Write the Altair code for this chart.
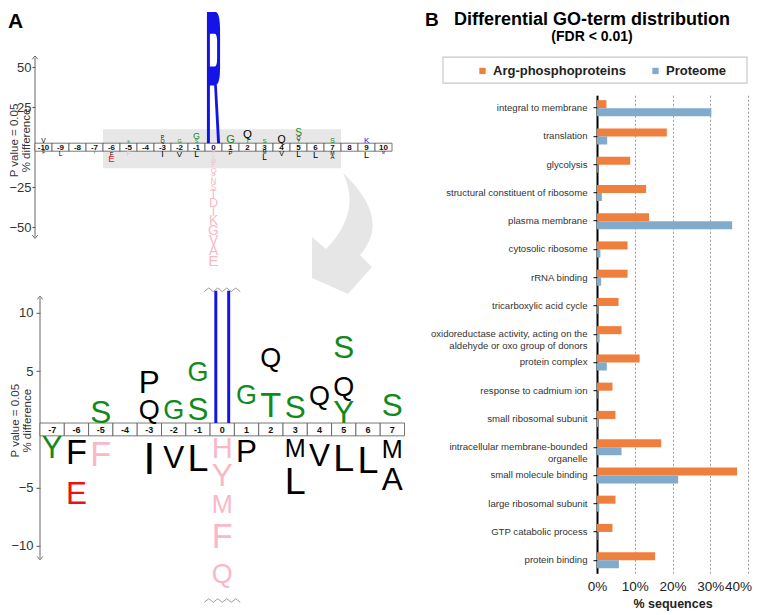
import altair as alt
import pandas as pd

# ================= Panel B data =================
go_terms = [
    "integral to membrane",
    "translation",
    "glycolysis",
    "structural constituent of ribosome",
    "plasma membrane",
    "cytosolic ribosome",
    "rRNA binding",
    "tricarboxylic acid cycle",
    "oxidoreductase activity, acting on the|aldehyde or oxo group of donors",
    "protein complex",
    "response to cadmium ion",
    "small ribosomal subunit",
    "intracellular membrane-bounded|organelle",
    "small molecule binding",
    "large ribosomal subunit",
    "GTP catabolic process",
    "protein binding",
]
arg_phospho_pct = [2.5, 18.5, 8.8, 13.0, 13.8, 8.1, 8.1, 5.7, 6.5, 11.3, 4.1, 4.9, 17.0, 37.1, 4.9, 4.1, 15.4]
proteome_pct = [30.3, 2.7, 0.2, 1.3, 35.8, 0.9, 1.1, 0.2, 0.7, 2.6, 0.15, 0.3, 6.5, 21.5, 0.6, 0.15, 5.8]
series_names = ["Arg-phosphoproteins", "Proteome"]

# ================= Panel A data (iceLogo) =================
# stacking order: from the position box outward
logo_pos = [-10, -5, -3, -3, -2, -1, -1, 0, 1, 2, 2, 3, 4, 5, 5, 5, 7, 9,
            -10, -9, -7, -6, -6, -5, -3, -2, -1,
            0, 0, 0, 0, 0, 0, 0, 0, 0, 0, 0, 0, 0, 0, 0, 0,
            1, 3, 3, 4, 5, 6, 7, 7, 9, 10]
logo_side = [1] * 18 + [-1] * 35
logo_aa = ["V", "S", "Q", "P", "G", "S", "G", "R", "G", "T", "Q", "S", "Q", "Y", "Q", "S", "S", "K",
           "F", "L", "Y", "F", "E", "F", "I", "V", "L",
           "H", "Y", "M", "F", "Q", "P", "N", "S", "T", "D", "I", "K", "G", "V", "A", "E",
           "P", "M", "L", "V", "L", "L", "M", "A", "L", "M"]
logo_height = [3.0, 1.97, 2.4, 2.3, 2.4, 2.4, 4.0, 82.0, 5.0, 3.1, 5.15, 2.8, 4.7, 2.0, 2.3, 4.5, 3.1, 3.5,
               2.0, 3.0, 1.9, 2.7, 4.3, 3.1, 3.9, 3.6, 3.8,
               2.0, 2.6, 2.5, 2.9, 3.6, 3.0, 3.7, 3.7, 5.0, 5.6, 5.6, 6.2, 6.2, 6.2, 6.2, 6.9,
               2.6, 2.0, 3.7, 3.2, 3.8, 4.1, 2.3, 2.7, 4.0, 1.5]
logo_class = ["black", "green", "black", "black", "green", "green", "green", "blue", "green", "green",
              "black", "green", "black", "green", "black", "green", "green", "blue",
              "black", "black", "green", "black", "red", "pink", "black", "black", "black",
              "pink", "pink", "pink", "pink", "pink", "pink", "pink", "pink", "pink", "pink", "pink",
              "pink", "pink", "pink", "pink", "pink",
              "black", "black", "black", "black", "black", "black", "black", "black", "black", "black"]
box_pos_top = list(range(-10, 11))
box_pos_bottom = list(range(-7, 8))

# ================= styles =================
ORANGE = "#EF7F3D"
BLUE_BAR = "#80ABCD"
CLS = ["green", "black", "blue", "red", "pink"]
CLS_COL = ["#128a1a", "#000000", "#1414e6", "#ee1111", "#f8b9c7"]
LOGO_FONT = "Liberation Sans"
CAP = 0.716
FS_CAP = 44
WIDTH = {"A": .667, "D": .722, "E": .667, "F": .611, "G": .778, "H": .722, "I": .278,
         "K": .667, "L": .556, "M": .833, "N": .722, "P": .667, "Q": .778, "R": .722,
         "S": .667, "T": .611, "V": .667, "Y": .667}

R_PATH = ("M -0.1 1 L -0.1 -1 L 0.03 -1 Q 0.1 -1 0.1 -0.7 L 0.1 -0.15 Q 0.1 0.08 0.05 0.1 "
          "L 0.1 1 L 0.055 1 L 0.01 0.12 L -0.055 0.12 L -0.055 1 Z "
          "M -0.055 -0.67 L -0.055 -0.17 L 0.02 -0.17 Q 0.055 -0.17 0.055 -0.3 L 0.055 -0.54 "
          "Q 0.055 -0.67 0.02 -0.67 Z")
STEMS_PATH = ("M -0.12 -1 L -0.075 -1 L -0.075 1 L -0.12 1 Z "
              "M 0.075 -1 L 0.12 -1 L 0.12 1 L 0.075 1 Z")
ARROW_PATH = ("M 0.017 -1 Q 0.833 -0.233 0.3 0.367 L 0.5 0.567 L 0.1 1.017 L -0.5 0.75 "
              "L -0.5 0.067 L -0.267 0.267 Q 0.333 -0.35 0.017 -1 Z")
ZIGZAG = "M -1 0.1 L -0.75 -0.1 L -0.5 0.1 L -0.25 -0.1 L 0 0.1 L 0.25 -0.1 L 0.5 0.1 L 0.75 -0.1 L 1 0.1"
CHEV_UP = "M -1 0.6 L 0 -0.6 L 1 0.6"
CHEV_DN = "M -1 -0.6 L 0 0.6 L 1 -0.6"

one = alt.Data(values=[{}])
cls_scale = alt.Scale(domain=CLS, range=CLS_COL)


def stack_logo(box_half, ppu, max_w):
    rows, cum = [], {}
    for p, s, a, h, c in zip(logo_pos, logo_side, logo_aa, logo_height, logo_class):
        k = (p, s)
        start = box_half + cum.get(k, 0.0)
        cum[k] = cum.get(k, 0.0) + h
        y0, y1 = s * start, s * (start + h)
        yc = (y0 + y1) / 2
        fs = min(h * ppu / CAP, max_w / WIDTH[a], FS_CAP)
        rows.append(dict(pos=p, aa=a, cls=c, lo=min(y0, y1), hi=max(y0, y1), yc=yc,
                         fs=fs, yb=yc - 0.5 * CAP * fs / ppu))
    return pd.DataFrame(rows)


def boxes_df(positions):
    return pd.DataFrame({"pos": positions,
                         "x0": [p - 0.5 for p in positions],
                         "x1": [p + 0.5 for p in positions],
                         "label": [str(p) for p in positions]})


def y_axis(values, title_x, title_y, offset=0, tick=3, pad=1):
    return alt.Axis(values=values, domain=False, ticks=True, tickSize=tick, tickColor="#555",
                    labelFontSize=13, labelColor="#333", labelPadding=pad, grid=False,
                    offset=offset,
                    title=["P value = 0.05", "% difference"], titleFontSize=11.5,
                    titleFontWeight="normal", titleColor="#333", titleAngle=270,
                    titleX=title_x, titleY=title_y, titleAlign="center",
                    titleBaseline="bottom", titleLineHeight=12)


# ================= Top logo =================
TOP_W, TOP_H = 357, 264
TOP_XD = [-10.5, 10.5]
TOP_YD = [-78.0, 87.0]
TOP_PPU = TOP_H / (TOP_YD[1] - TOP_YD[0])
TOP_BOX = 2.5


def tpx(u):
    return (u - TOP_XD[0]) / (TOP_XD[1] - TOP_XD[0]) * TOP_W


def tpy(v):
    return (TOP_YD[1] - v) * TOP_PPU


top_df = stack_logo(TOP_BOX, TOP_PPU, 14)
top_letters = top_df[top_df.aa != "R"]
top_R = top_df[top_df.aa == "R"].copy()
top_R["sz"] = ((top_R.hi - top_R.lo) * TOP_PPU) ** 2
top_boxes = boxes_df(box_pos_top)
xs_top = alt.Scale(domain=TOP_XD, nice=False, zero=False)
ys_top = alt.Scale(domain=TOP_YD, nice=False, zero=False)
top_axis = y_axis([-50, -25, 25, 50], -16, 132)

t_shade = alt.Chart(one).mark_rect(color="#e7e7e7").encode(
    x=alt.value(tpx(-6.5)), x2=alt.value(tpx(7.5)), y=alt.value(tpy(11.25)), y2=alt.value(tpy(-13.1)))
t_arrow = alt.Chart(one).mark_point(shape=ARROW_PATH, filled=True, color="#e6e6e6", opacity=1,
                                    size=14400, strokeWidth=0).encode(x=alt.value(307), y=alt.value(225))
t_axis = alt.Chart(one).mark_rule(color="#666", strokeWidth=1).encode(
    x=alt.value(0), y=alt.value(tpy(56)), y2=alt.value(tpy(-56)))
t_cap_up = alt.Chart(one).mark_point(shape=CHEV_UP, filled=False, color="#666", size=30, opacity=1,
                                     strokeWidth=1).encode(x=alt.value(0), y=alt.value(tpy(56)))
t_cap_dn = alt.Chart(one).mark_point(shape=CHEV_DN, filled=False, color="#666", size=30, opacity=1,
                                     strokeWidth=1).encode(x=alt.value(0), y=alt.value(tpy(-56)))
t_boxes = alt.Chart(top_boxes).mark_rect(fill="white", stroke="#555", strokeWidth=0.8).encode(
    x=alt.X("x0:Q", scale=xs_top, axis=None), x2="x1:Q",
    y=alt.value(tpy(TOP_BOX)), y2=alt.value(tpy(-TOP_BOX)))
t_boxlab = alt.Chart(top_boxes).mark_text(fontSize=8, fontWeight="bold", baseline="middle", color="#111").encode(
    x=alt.X("pos:Q", scale=xs_top, axis=None), y=alt.value(tpy(0) + 0.5), text="label:N")
t_letters = alt.Chart(top_letters).mark_text(baseline="alphabetic", align="center", font=LOGO_FONT).encode(
    x=alt.X("pos:Q", scale=xs_top, axis=None),
    y=alt.Y("yb:Q", scale=ys_top, axis=top_axis),
    text="aa:N",
    color=alt.Color("cls:N", scale=cls_scale, legend=None),
    size=alt.Size("fs:Q", scale=None))
t_R = alt.Chart(top_R).mark_point(shape=R_PATH, filled=True, color="#1414e6", opacity=1, strokeWidth=0).encode(
    x=alt.X("pos:Q", scale=xs_top, axis=None), y=alt.Y("yc:Q", scale=ys_top, axis=top_axis),
    size=alt.Size("sz:Q", scale=None))
t_A = alt.Chart(one).mark_text(text="A", fontSize=21, fontWeight="bold", align="left",
                               baseline="top").encode(x=alt.value(-27), y=alt.value(3))

top = alt.layer(t_shade, t_arrow, t_axis, t_cap_up, t_cap_dn, t_boxes, t_boxlab, t_letters, t_R, t_A
                ).properties(width=TOP_W, height=TOP_H)

# ================= Bottom logo =================
BOT_W, BOT_H = 369.5, 308.7
BOT_XD = [-7.706, 7.5]
BOT_YD = [-14.6, 11.9]
BOT_PPU = BOT_H / (BOT_YD[1] - BOT_YD[0])
BOT_BOX = 0.55


def bpx(u):
    return (u - BOT_XD[0]) / (BOT_XD[1] - BOT_XD[0]) * BOT_W


def bpy(v):
    return (BOT_YD[1] - v) * BOT_PPU


bot_df = stack_logo(BOT_BOX, BOT_PPU, 21)
bot_df = bot_df[(bot_df.pos >= -7) & (bot_df.pos <= 7)]
bot_letters = bot_df[(bot_df.aa != "R") & (bot_df.lo >= BOT_YD[0] - 0.01) & (bot_df.hi <= BOT_YD[1])]
bot_R = bot_df[bot_df.aa == "R"].copy()
bot_R["hi"] = bot_R.hi.clip(upper=BOT_YD[1])
bot_R["yc"] = (bot_R.hi + bot_R.lo) / 2
bot_R["sz"] = ((bot_R.hi - bot_R.lo) * BOT_PPU) ** 2
bot_boxes = boxes_df(box_pos_bottom)
xs_bot = alt.Scale(domain=BOT_XD, nice=False, zero=False)
ys_bot = alt.Scale(domain=BOT_YD, nice=False, zero=False)
bot_axis = y_axis([-10, -5, 5, 10], -20, 129.4, offset=-5, tick=4, pad=3)

b_axis = alt.Chart(one).mark_rule(color="#666", strokeWidth=1).encode(
    x=alt.value(bpx(-7.5)), y=alt.value(bpy(11.3)), y2=alt.value(bpy(-11.05)))
b_cap_up = alt.Chart(one).mark_point(shape=CHEV_UP, filled=False, color="#666", size=30, opacity=1,
                                     strokeWidth=1).encode(x=alt.value(bpx(-7.5)), y=alt.value(bpy(11.3)))
b_cap_dn = alt.Chart(one).mark_point(shape=CHEV_DN, filled=False, color="#666", size=30, opacity=1,
                                     strokeWidth=1).encode(x=alt.value(bpx(-7.5)), y=alt.value(bpy(-11.05)))
b_boxes = alt.Chart(bot_boxes).mark_rect(fill="white", stroke="#555", strokeWidth=0.8).encode(
    x=alt.X("x0:Q", scale=xs_bot, axis=None), x2="x1:Q",
    y=alt.value(bpy(BOT_BOX)), y2=alt.value(bpy(-BOT_BOX)))
b_boxlab = alt.Chart(bot_boxes).mark_text(fontSize=9, fontWeight="bold", baseline="middle", color="#111").encode(
    x=alt.X("pos:Q", scale=xs_bot, axis=None), y=alt.value(bpy(0) + 0.5), text="label:N")
b_letters = alt.Chart(bot_letters).mark_text(baseline="alphabetic", align="center", font=LOGO_FONT).encode(
    x=alt.X("pos:Q", scale=xs_bot, axis=None),
    y=alt.Y("yb:Q", scale=ys_bot, axis=bot_axis),
    text="aa:N",
    color=alt.Color("cls:N", scale=cls_scale, legend=None),
    size=alt.Size("fs:Q", scale=None))
b_R = alt.Chart(bot_R).mark_point(shape=STEMS_PATH, filled=True, color="#1414e6", opacity=1, strokeWidth=0).encode(
    x=alt.X("pos:Q", scale=xs_bot, axis=None), y=alt.Y("yc:Q", scale=ys_bot, axis=bot_axis),
    size=alt.Size("sz:Q", scale=None))
b_zz_top = alt.Chart(one).mark_point(shape=ZIGZAG, filled=False, color="#9a9a9a", size=1296, opacity=1,
                                     strokeWidth=1).encode(x=alt.value(bpx(0)), y=alt.value(bpy(BOT_YD[1]) - 1))
b_zz_bot = alt.Chart(one).mark_point(shape=ZIGZAG, filled=False, color="#9a9a9a", size=1296, opacity=1,
                                     strokeWidth=1).encode(x=alt.value(bpx(0)), y=alt.value(bpy(BOT_YD[0]) + 1))

bottom = alt.layer(b_axis, b_cap_up, b_cap_dn, b_boxes, b_boxlab, b_letters, b_R, b_zz_top, b_zz_bot
                   ).properties(width=BOT_W, height=BOT_H)

left = alt.vconcat(top, bottom, spacing=18.8, bounds="flush").resolve_scale(
    color="independent", x="independent", y="independent")

# ================= Panel B =================
df_b = pd.DataFrame({
    "term": go_terms * 2,
    "series": [series_names[0]] * len(go_terms) + [series_names[1]] * len(go_terms),
    "value": arg_phospho_pct + proteome_pct,
})

h_B = alt.Chart(one).mark_text(text="B", fontSize=19, fontWeight="bold", align="left",
                               baseline="top").encode(x=alt.value(-172), y=alt.value(3))
h_title = alt.Chart(one).mark_text(text="Differential GO-term distribution", fontSize=18, fontWeight="bold",
                                   align="center", baseline="top").encode(x=alt.value(-5), y=alt.value(3))
h_sub = alt.Chart(one).mark_text(text="(FDR < 0.01)", fontSize=14, fontWeight="bold",
                                 align="center", baseline="top").encode(x=alt.value(-5), y=alt.value(22))
h_box = alt.Chart(one).mark_rect(fill="white", stroke="#c8c8c8", strokeWidth=1.2).encode(
    x=alt.value(-154), x2=alt.value(150), y=alt.value(49.2), y2=alt.value(75.2))
header = alt.layer(h_box, h_B, h_title, h_sub).properties(width=151, height=80)

bars = alt.Chart(df_b).mark_bar().encode(
    x=alt.X("value:Q", scale=alt.Scale(domain=[0, 40], nice=False),
            axis=alt.Axis(values=[0, 10, 20, 30, 40], labelExpr="datum.value + '%'", grid=True,
                          gridDash=[2, 2], gridColor="#9a9a9a", domain=False, ticks=False,
                          labelFontSize=13.5, labelColor="#222", labelPadding=6, labelFlush=False,
                          labelOverlap=False, labelAlign="center",
                          labelOffset={"condition": {"test": "datum.value >= 40", "value": -10},
                                       "value": 0},
                          title="% sequences", titleFontSize=12.5, titleFontWeight="bold",
                          titleColor="#222", titlePadding=5)),
    y=alt.Y("term:N", sort=go_terms, scale=alt.Scale(paddingInner=0.43, paddingOuter=0.175),
            axis=alt.Axis(title=None, labelExpr="split(datum.label, '|')", labelFontSize=9.6,
                          labelColor="#333", labelLimit=300,
                          labelLineHeight=12, domainColor="#000", domainWidth=2,
                          tickColor="#000", tickSize=4, labelPadding=6, grid=False)),
    yOffset=alt.YOffset("series:N", sort=series_names),
    color=alt.Color("series:N", sort=series_names,
                    scale=alt.Scale(domain=series_names, range=[ORANGE, BLUE_BAR]),
                    legend=alt.Legend(orient="none", legendX=-121, legendY=-31, direction="horizontal",
                                      title=None, symbolType="square", symbolSize=40,
                                      symbolStrokeWidth=0, labelFontSize=13, labelFontWeight="bold",
                                      labelColor="#222", columnPadding=23, labelOffset=4, padding=0)),
).properties(width=151, height=478)

right = alt.vconcat(header, bars, spacing=7.2, bounds="flush").resolve_scale(color="independent")

chart = alt.hconcat(left, right, spacing=20).resolve_scale(color="independent").resolve_legend(
    color="independent").properties(padding=0, background="white").configure(
    font="Liberation Sans").configure_view(strokeWidth=0, stroke="transparent")

chart.save("out.html", embed_options={"renderer": "svg", "actions": False})
